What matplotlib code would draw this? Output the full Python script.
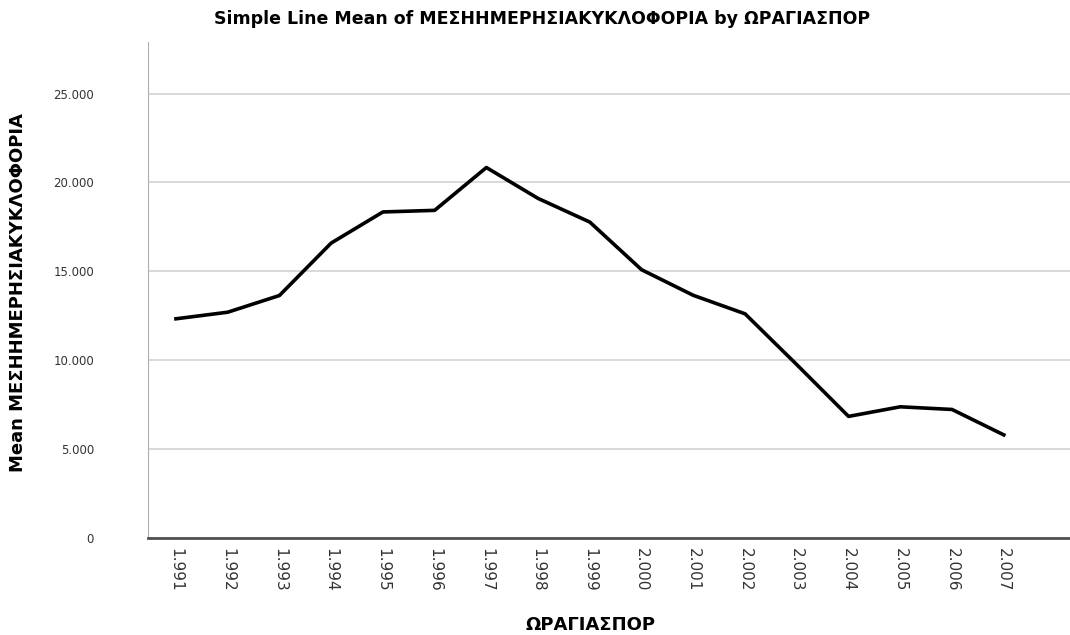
import matplotlib
matplotlib.use("Agg")
import matplotlib.pyplot as plt
from matplotlib.ticker import FuncFormatter

plt.rcParams['font.family'] = ['DejaVu Sans']

# data
years = [1991, 1992, 1993, 1994, 1995, 1996, 1997, 1998, 1999,
         2000, 2001, 2002, 2003, 2004, 2005, 2006, 2007]
mean_traffic = [12330, 12700, 13640, 16590, 18340, 18430, 20840, 19100, 17770,
                15090, 13650, 12610, 9750, 6840, 7380, 7230, 5800]
y_ticks = [0, 5000, 10000, 15000, 20000, 25000]

title = "Simple Line Mean of ΜΕΣΗΗΜΕΡΗΣΙΑΚΥΚΛΟΦΟΡΙΑ by ΩΡΑΓΙΑΣΠΟΡ"
x_label = "ΩΡΑΓΙΑΣΠΟΡ"
y_label = "Mean ΜΕΣΗΗΜΕΡΗΣΙΑΚΥΚΛΟΦΟΡΙΑ"


def dotted_thousands(v, pos=None):
    return "{:,.0f}".format(v).replace(",", ".")


fig = plt.figure(figsize=(10.7, 6.35), dpi=100)
ax = fig.add_axes([148 / 1070, 1 - 538 / 635, (1070 - 148) / 1070, (538 - 42) / 635])

xs = list(range(len(years)))
ax.plot(xs, mean_traffic, color="black", lw=2.6, solid_joinstyle="round")

ax.set_xlim(-0.54, len(years) - 1 + 1.28)
ax.set_ylim(0, 27900)
ax.set_yticks(y_ticks)
ax.yaxis.set_major_formatter(FuncFormatter(dotted_thousands))
ax.set_xticks(xs)
ax.set_xticklabels([dotted_thousands(y) for y in years], rotation=-90,
                   fontsize=11, color="#333333")
ax.tick_params(axis="y", length=0, pad=54 * 0.72, labelsize=8.5, labelcolor="#333333")
ax.tick_params(axis="x", length=0, pad=7)

ax.grid(axis="y", color="#d0d0d0", lw=1.1)
ax.set_axisbelow(True)
for side in ("top", "right"):
    ax.spines[side].set_visible(False)
ax.spines["left"].set_color("#b0b0b0")
ax.spines["bottom"].set_color("#505050")
ax.spines["bottom"].set_linewidth(2)

fig.text(542 / 1070, 1 - 19 / 635, title, ha="center", va="center",
         fontsize=12.5, fontweight="bold")
fig.text(590 / 1070, 1 - 625 / 635, x_label, ha="center", va="center",
         fontsize=13, fontweight="bold")
fig.text(18 / 1070, 1 - 293 / 635, y_label, ha="center", va="center",
         rotation=90, fontsize=13, fontweight="bold")

fig.savefig("out.png", dpi=100)
